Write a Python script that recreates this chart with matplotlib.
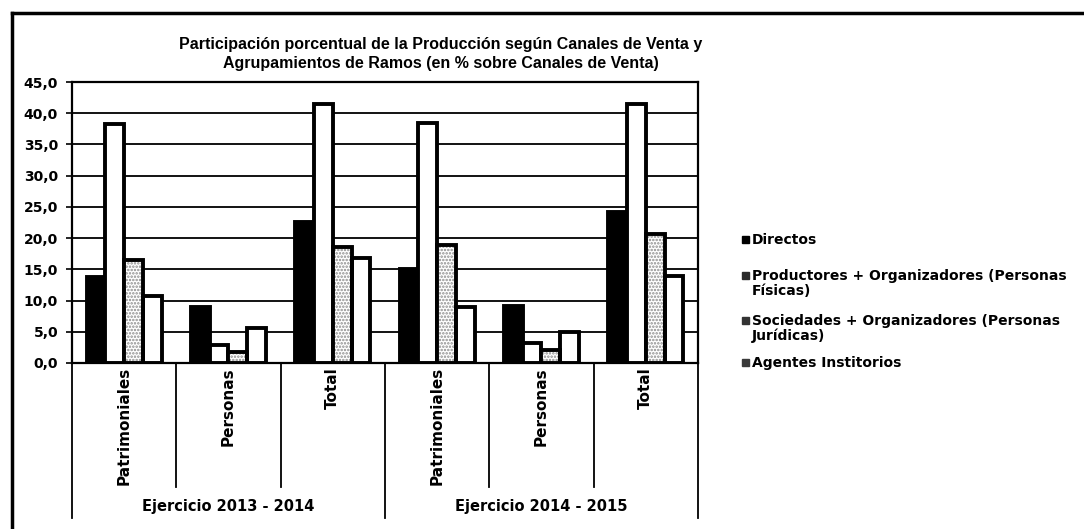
import matplotlib.pyplot as plt
import matplotlib.transforms as mtransforms
from matplotlib.lines import Line2D
from matplotlib.patches import Rectangle
import numpy as np

categories = ['Patrimoniales', 'Personas', 'Total', 'Patrimoniales', 'Personas', 'Total']
periods = ['Ejercicio 2013 - 2014', 'Ejercicio 2014 - 2015']

directos = [13.7, 9.0, 22.6, 15.1, 9.2, 24.2]
productores = [38.2, 2.9, 41.4, 38.4, 3.2, 41.5]
sociedades = [16.5, 1.8, 18.6, 18.9, 2.1, 20.6]
agentes = [10.8, 5.6, 16.8, 8.9, 4.9, 13.9]

series_names = ['Directos',
                'Productores + Organizadores (Personas\nFísicas)',
                'Sociedades + Organizadores (Personas\nJurídicas)',
                'Agentes Institorios']

plt.rcParams['font.family'] = ['DejaVu Sans']
plt.rcParams['font.weight'] = 'bold'
plt.rcParams['hatch.linewidth'] = 1.2

W, H = 1084, 529
fig = plt.figure(figsize=(W / 100, H / 100), dpi=100)
ax = fig.add_axes([72 / W, 1 - 363 / H, (698 - 72) / W, (363 - 82) / H])

x = np.arange(len(categories))
w = 0.18
off = (np.arange(4) - 1.5) * w

ax.bar(x + off[0], directos, w, color='black', edgecolor='black', lw=2.8, zorder=3)
ax.bar(x + off[1], productores, w, color='white', edgecolor='black', lw=2.8, zorder=3)
# stippled fill, then black outline on top
ax.bar(x + off[2], sociedades, w, color='white', edgecolor='#8c8c8c', hatch='.....', lw=0, zorder=3)
ax.bar(x + off[2], sociedades, w, fill=False, edgecolor='black', lw=2.8, zorder=4)
ax.bar(x + off[3], agentes, w, color='white', edgecolor='black', lw=2.8, zorder=3)

ax.set_xlim(-0.5, len(categories) - 0.5)
ax.set_ylim(0, 45)
ax.set_yticks(np.arange(0, 46, 5))
ax.set_yticklabels([f'{v:.1f}'.replace('.', ',') for v in np.arange(0, 46, 5)],
                   fontsize=10, fontweight='bold')
ax.yaxis.grid(True, color='black', lw=1.3, zorder=0)
ax.set_axisbelow(True)
for s in ax.spines.values():
    s.set_linewidth(1.6)
    s.set_zorder(5)
ax.tick_params(axis='y', length=4, width=1.2, pad=6)

ax.set_xticks(x)
ax.set_xticklabels(categories, rotation=90, fontsize=11, fontweight='bold')
ax.tick_params(axis='x', length=0, pad=3)

# category separators under the axis
trans = mtransforms.blended_transform_factory(ax.transData, ax.transAxes)
n_per = len(categories) // len(periods)
for b in np.arange(len(categories) + 1) - 0.5:
    long_line = int(b + 0.5) % n_per == 0
    ax.plot([b, b], [0, -0.55 if long_line else -0.44], transform=trans,
            color='black', lw=1.3, clip_on=False)
for i, p in enumerate(periods):
    ax.text(i * n_per + (n_per - 1) / 2, -0.512, p, transform=trans,
            ha='center', va='center', fontsize=10.5, fontweight='bold')

fig.text(441 / W, 1 - 54 / H,
         'Participación porcentual de la Producción según Canales de Venta y\n'
         'Agrupamientos de Ramos (en % sobre Canales de Venta)',
         ha='center', va='center', fontsize=11.5, fontweight='bold', linespacing=1.3,
         family='Liberation Sans')

# legend
leg_y = [240, 276, 321, 363]
leg_col = ['#000000', '#2a2a2a', '#333333', '#3a3a3a']
for name, yy, c in zip(series_names, leg_y, leg_col):
    fig.add_artist(Rectangle((742 / W, 1 - (yy + 3) / H), 7 / W, 7 / H,
                             transform=fig.transFigure, color=c))
    fig.text(752 / W, 1 - (yy - 7) / H, name, ha='left', va='top',
             fontsize=10, fontweight='bold', linespacing=1.05)

# outer frame of the scanned chart
fig.add_artist(Line2D([12 / W, 1], [1 - 13 / H, 1 - 13 / H], transform=fig.transFigure,
                      color='black', lw=2.5))
fig.add_artist(Line2D([12 / W, 12 / W], [0, 1 - 13 / H], transform=fig.transFigure,
                      color='black', lw=2.5))

fig.savefig('out.png', dpi=100)
